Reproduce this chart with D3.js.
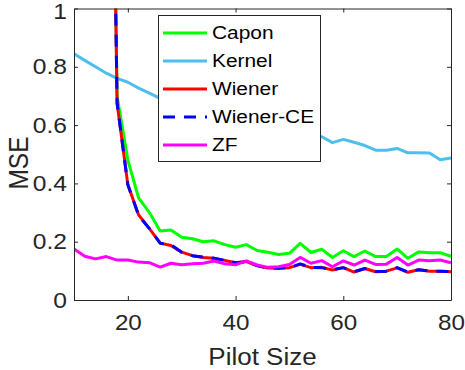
<!DOCTYPE html>
<html>
<head>
<meta charset="utf-8">
<script src="https://cdn.jsdelivr.net/npm/d3@7"></script>
<style>
  body { margin: 0; background: #fff; }
  svg { display: block; }
  text { font-family: "Liberation Sans", Arial, Helvetica, sans-serif; }
</style>
</head>
<body>
<svg id="chart" width="465" height="370"></svg>
<script>
// ---- data ----
const pilotSize = [10,12,14,16,18,20,22,24,26,28,30,32,34,36,38,40,42,44,46,48,50,52,54,56,58,60,62,64,66,68,70,72,74,76,78,80];
const capon   = [20,12,6,3.3,0.70,0.48,0.35,0.30,0.237,0.24,0.215,0.21,0.20,0.203,0.19,0.181,0.19,0.17,0.164,0.156,0.16,0.194,0.163,0.174,0.146,0.169,0.149,0.168,0.149,0.149,0.175,0.143,0.165,0.162,0.162,0.15];
const kernel  = [0.845,0.822,0.80,0.778,0.76,0.747,0.727,0.71,0.692,0.675,0.665,0.655,0.645,0.635,0.625,0.62,0.61,0.60,0.595,0.585,0.58,0.575,0.565,0.56,0.54,0.551,0.541,0.53,0.514,0.514,0.52,0.505,0.505,0.504,0.481,0.487];
const wiener  = [20,12,6,3.2,0.675,0.395,0.292,0.245,0.195,0.187,0.164,0.152,0.146,0.143,0.136,0.128,0.132,0.118,0.110,0.109,0.111,0.122,0.111,0.112,0.103,0.111,0.096,0.108,0.097,0.099,0.110,0.095,0.104,0.099,0.099,0.097];
const wienerCE= [20,12,6,3.2,0.675,0.395,0.290,0.245,0.195,0.190,0.164,0.152,0.147,0.143,0.136,0.128,0.131,0.118,0.110,0.109,0.111,0.124,0.112,0.111,0.104,0.111,0.097,0.108,0.098,0.099,0.111,0.096,0.104,0.099,0.099,0.097];
const zf      = [0.175,0.150,0.141,0.149,0.137,0.137,0.130,0.128,0.113,0.126,0.121,0.124,0.126,0.134,0.124,0.121,0.134,0.120,0.112,0.114,0.122,0.146,0.126,0.135,0.114,0.134,0.120,0.137,0.122,0.123,0.146,0.120,0.137,0.135,0.137,0.128];
const seriesNames = ["Capon","Kernel","Wiener","Wiener-CE","ZF"];
const xTicks = [20,40,60,80];
const yTicks = [0,0.2,0.4,0.6,0.8,1];
const yTickLabels = ["0","0.2","0.4","0.6","0.8","1"];

const series = [
  {name: seriesNames[0], values: capon,    color: "#00ff00", dash: null},
  {name: seriesNames[1], values: kernel,   color: "#4dbeee", dash: null},
  {name: seriesNames[2], values: wiener,   color: "#ff0000", dash: null},
  {name: seriesNames[3], values: wienerCE, color: "#0000ff", dash: "12,9"},
  {name: seriesNames[4], values: zf,       color: "#ff00ff", dash: null}
];

const svg = d3.select("#chart");
const L = 74, R = 451, T = 8.5, B = 300;
const x = d3.scaleLinear().domain([10,80]).range([L,R]);
const y = d3.scaleLinear().domain([0,1]).range([B,T]);
const axisColor = "#262626";

svg.append("defs").append("clipPath").attr("id","clip")
  .append("rect").attr("x",L).attr("y",T).attr("width",R-L).attr("height",B-T);

const line = d3.line().x((d,i)=>x(pilotSize[i])).y(d=>y(d));
const g = svg.append("g").attr("clip-path","url(#clip)");
series.forEach(s => {
  g.append("path").datum(s.values)
    .attr("d", line)
    .attr("fill","none")
    .attr("stroke", s.color)
    .attr("stroke-width", 3)
    .attr("stroke-linejoin","round")
    .attr("stroke-dasharray", s.dash);
});

// axes
const tl = 4;
const xb = svg.append("g").attr("transform",`translate(0,${B})`)
  .call(d3.axisBottom(x).tickValues(xTicks).tickSize(-tl).tickPadding(14).tickSizeOuter(0));
const xt = svg.append("g").attr("transform",`translate(0,${T})`)
  .call(d3.axisTop(x).tickValues(xTicks).tickSize(-tl).tickFormat("").tickSizeOuter(0));
const yl = svg.append("g").attr("transform",`translate(${L},0)`)
  .call(d3.axisLeft(y).tickValues(yTicks).tickSize(-tl).tickFormat((d,i)=>yTickLabels[i]).tickSizeOuter(0));
const yr = svg.append("g").attr("transform",`translate(${R},0)`)
  .call(d3.axisRight(y).tickValues(yTicks).tickSize(-tl).tickFormat("").tickSizeOuter(0));
[xb,xt,yl,yr].forEach(a => {
  a.select(".domain").attr("stroke", axisColor).attr("stroke-width",1);
  a.selectAll(".tick line").attr("stroke", axisColor).attr("stroke-width",1);
  a.selectAll(".tick text").attr("fill", axisColor).style("font-size","22px")
   .style("font-family",'"Liberation Sans", Arial, sans-serif');
});
xb.selectAll(".tick text").attr("dy","0.71em").attr("transform","scale(1.1,1)");
yl.selectAll(".tick text").attr("x",0).attr("transform","translate(-7,0) scale(1.12,1)");
yl.selectAll(".tick text").filter((d)=>d===1).attr("dy","0.45em");

// axis labels
svg.append("text").attr("transform",`translate(${(L+R)/2},365) scale(1.13,1)`)
  .attr("text-anchor","middle").attr("fill",axisColor).style("font-size","23px")
  .text("Pilot Size");
svg.append("text").attr("transform",`translate(28,163) rotate(-90) scale(1,1.15)`)
  .attr("text-anchor","middle").attr("fill",axisColor).style("font-size","24.5px")
  .text("MSE");

// legend
const lg = svg.append("g");
lg.append("rect").attr("x",158.5).attr("y",15.5).attr("width",162).attr("height",146)
  .attr("fill","#fff").attr("stroke","#262626").attr("stroke-width",1);
series.forEach((s,i) => {
  const yy = 33 + i*28;
  lg.append("line").attr("x1",163).attr("x2",207).attr("y1",yy).attr("y2",yy)
    .attr("stroke",s.color).attr("stroke-width",3).attr("stroke-dasharray",s.dash);
  lg.append("text").attr("transform",`translate(212,${yy}) scale(1.13,1)`).attr("dy","0.35em")
    .attr("fill","#000").style("font-size","18.5px").text(s.name);
});
</script>
</body>
</html>
